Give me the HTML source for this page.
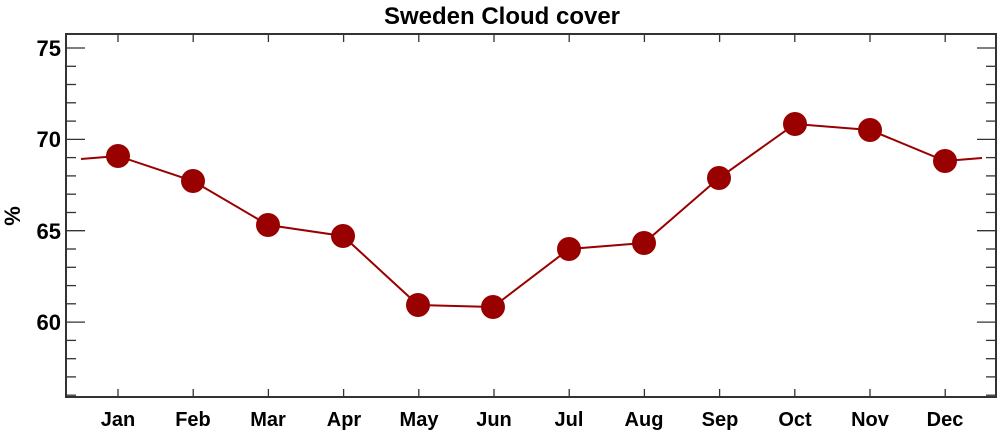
<!DOCTYPE html>
<html><head><meta charset="utf-8"><style>body{margin:0;background:#fff}</style></head><body>
<svg width="1000" height="433" viewBox="0 0 1000 433" xmlns="http://www.w3.org/2000/svg" font-family="Liberation Sans, Arial, sans-serif" font-weight="bold">
<text x="502" y="24" font-size="24" text-anchor="middle">Sweden Cloud cover</text>
<g stroke="#333" stroke-width="1.3">
<rect x="66" y="34" width="930" height="363" fill="none" stroke-width="2"/>
<g id="yt">
<line x1="66" y1="48" x2="85" y2="48"/><line x1="66" y1="66.3" x2="76" y2="66.3"/><line x1="66" y1="84.5" x2="76" y2="84.5"/><line x1="66" y1="102.8" x2="76" y2="102.8"/><line x1="66" y1="121.1" x2="76" y2="121.1"/>
<line x1="66" y1="139.4" x2="85" y2="139.4"/><line x1="66" y1="157.6" x2="76" y2="157.6"/><line x1="66" y1="175.9" x2="76" y2="175.9"/><line x1="66" y1="194.2" x2="76" y2="194.2"/><line x1="66" y1="212.5" x2="76" y2="212.5"/>
<line x1="66" y1="230.7" x2="85" y2="230.7"/><line x1="66" y1="249" x2="76" y2="249"/><line x1="66" y1="267.3" x2="76" y2="267.3"/><line x1="66" y1="285.6" x2="76" y2="285.6"/><line x1="66" y1="303.8" x2="76" y2="303.8"/>
<line x1="66" y1="322.1" x2="85" y2="322.1"/><line x1="66" y1="340.4" x2="76" y2="340.4"/><line x1="66" y1="358.7" x2="76" y2="358.7"/><line x1="66" y1="376.9" x2="76" y2="376.9"/><line x1="66" y1="395.2" x2="76" y2="395.2"/>
</g>
<use href="#yt" transform="translate(1062,0) scale(-1,1)"/>
<g id="xt">
<line x1="118" y1="397" x2="118" y2="389"/><line x1="193.2" y1="397" x2="193.2" y2="389"/><line x1="268.4" y1="397" x2="268.4" y2="389"/><line x1="343.6" y1="397" x2="343.6" y2="389"/><line x1="418.8" y1="397" x2="418.8" y2="389"/><line x1="494" y1="397" x2="494" y2="389"/><line x1="569.2" y1="397" x2="569.2" y2="389"/><line x1="644.4" y1="397" x2="644.4" y2="389"/><line x1="719.6" y1="397" x2="719.6" y2="389"/><line x1="794.8" y1="397" x2="794.8" y2="389"/><line x1="870" y1="397" x2="870" y2="389"/><line x1="945.2" y1="397" x2="945.2" y2="389"/>
</g>
<use href="#xt" transform="translate(0,431) scale(1,-1)"/>
</g>
<g font-size="22" text-anchor="end">
<text x="61" y="56">75</text><text x="61" y="147">70</text><text x="61" y="239">65</text><text x="61" y="330">60</text>
</g>
<text transform="translate(20,216) rotate(-90)" font-size="22" text-anchor="middle">%</text>
<g font-size="20" text-anchor="middle">
<text x="118" y="426">Jan</text><text x="193" y="426">Feb</text><text x="268" y="426">Mar</text><text x="344" y="426">Apr</text><text x="419" y="426">May</text><text x="494" y="426">Jun</text><text x="569" y="426">Jul</text><text x="644" y="426">Aug</text><text x="720" y="426">Sep</text><text x="795" y="426">Oct</text><text x="870" y="426">Nov</text><text x="945" y="426">Dec</text>
</g>
<polyline fill="none" stroke="#990000" stroke-width="2" points="81,159 118,156 193,181 268,225 343,236 418,305 493,307 569,249 644,243 719,178 795,124 870,130 945,161 982,158"/>
<g fill="#990000">
<circle cx="118" cy="156" r="12"/><circle cx="193" cy="181" r="12"/><circle cx="268" cy="225" r="12"/><circle cx="343" cy="236" r="12"/><circle cx="418" cy="305" r="12"/><circle cx="493" cy="307" r="12"/><circle cx="569" cy="249" r="12"/><circle cx="644" cy="243" r="12"/><circle cx="719" cy="178" r="12"/><circle cx="795" cy="124" r="12"/><circle cx="870" cy="130" r="12"/><circle cx="945" cy="161" r="12"/>
</g>
</svg>
</body></html>
